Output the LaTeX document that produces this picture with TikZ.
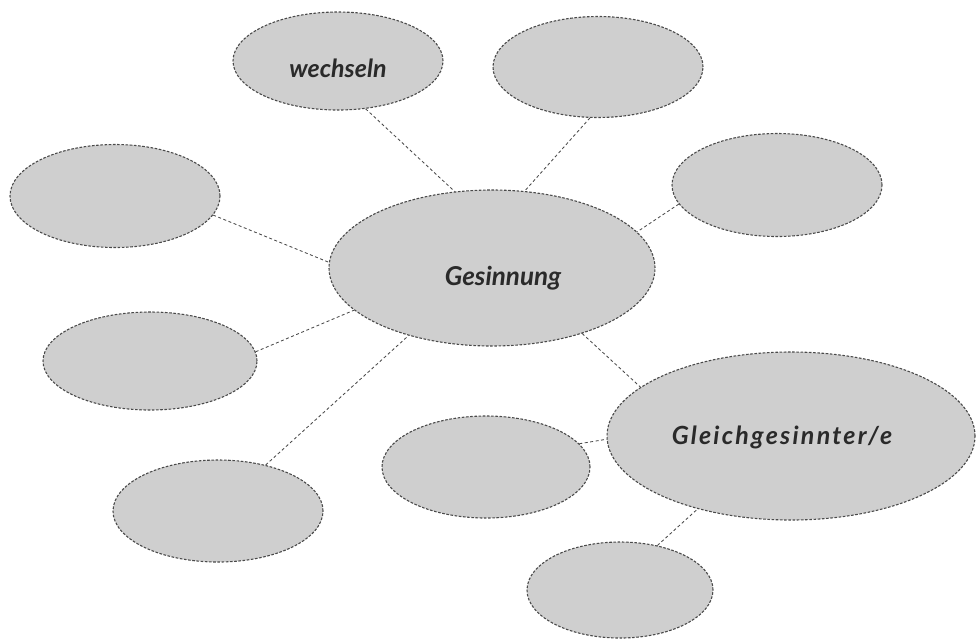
\documentclass[tikz,border=0pt]{standalone}
\usepackage{fontspec}
\setmainfont{Lato}
\usetikzlibrary{shapes.geometric}
\definecolor{bubblefill}{HTML}{CFCFCF}
\definecolor{edge}{HTML}{4A4A4A}
\definecolor{ink}{HTML}{2A2A2A}
\tikzset{
  bubble/.style={ellipse, draw=edge, fill=bubblefill, line width=1.1pt,
    dash pattern=on 2.6pt off 1.6pt, inner sep=0pt},
  word/.style={inner sep=0pt, text=ink, font=\fontsize{25}{27}\selectfont\bfseries\itshape},
  link/.style={draw=edge, line width=0.85pt, dash pattern=on 3pt off 2.5pt}
}
\begin{document}
\begin{tikzpicture}[x=1pt,y=-1pt]
\useasboundingbox[fill=white] (0,0) rectangle (979,641);
% bubbles
\node[bubble, minimum width=210, minimum height=98] (w) at (338,61) {};
\node[bubble, minimum width=210, minimum height=101] (tr) at (598,67) {};
\node[bubble, minimum width=210, minimum height=103] (l) at (115,196) {};
\node[bubble, minimum width=210, minimum height=103] (r) at (777,185) {};
\node[bubble, minimum width=326, minimum height=156] (c) at (492,268) {};
\node[bubble, minimum width=214, minimum height=98] (ll) at (150,361) {};
\node[bubble, minimum width=368, minimum height=168] (g) at (791,436) {};
\node[bubble, minimum width=208, minimum height=102] (m) at (486,467) {};
\node[bubble, minimum width=210, minimum height=102] (bl) at (218,511) {};
\node[bubble, minimum width=186, minimum height=96] (b) at (620,590) {};
% words
\node[word] (wt) at (338,68) {wechseln};
\node[word, font=\fontsize{26}{28}\selectfont\bfseries\itshape] (ct) at (503,278) {Gesinnung};
\node[word, font=\fontsize{25}{27}\selectfont\bfseries\itshape\addfontfeatures{LetterSpace=9}] (gt) at (782,437) {Gleichgesinnter/e};
% connectors
\draw[link] (w.300) -- (c.116);
\draw[link] (tr.261) -- (c.67);
\draw[link] (l.-11) -- (c.178);
\draw[link] (r.191) -- (c.14);
\draw[link] (ll.5) -- (c.197);
\draw[link] (bl.44) -- (c.219);
\draw[link] (c.324) -- (g.162);
\draw[link] (m.14) -- (g.181);
\draw[link] (b.50) -- (g.218);
\end{tikzpicture}
\end{document}
